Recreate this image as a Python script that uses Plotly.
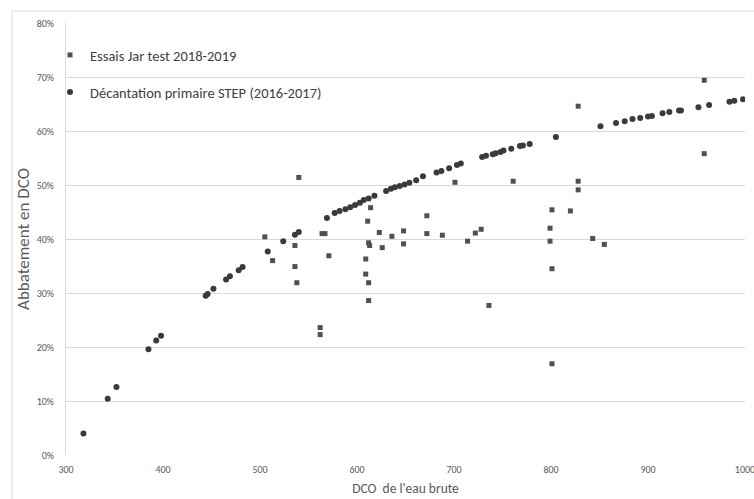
import plotly.graph_objects as go

# Décantation primaire STEP (2016-2017) — circles
step_x = [318, 343, 352, 385, 393, 398, 444, 446, 452, 465, 469, 478, 482, 508, 524, 536, 540,
          569, 577, 582, 588, 593, 598, 603, 607, 612, 618, 630, 635, 639, 644, 649, 654, 661,
          668, 682, 687, 695, 703, 707, 729, 733, 740, 743, 748, 751, 759, 768, 771, 778, 805,
          851, 867, 876, 884, 892, 900, 904, 915, 922, 932, 934, 952, 963, 984, 989, 998]
step_y = [4.0, 10.4, 12.6, 19.6, 21.2, 22.1, 29.5, 29.8, 30.8, 32.5, 33.1, 34.2, 34.8, 37.7, 39.6, 40.8, 41.3,
          43.9, 44.8, 45.2, 45.5, 45.9, 46.3, 46.7, 47.2, 47.5, 48.0, 48.9, 49.3, 49.6, 49.8, 50.1, 50.4, 50.9,
          51.6, 52.3, 52.6, 53.1, 53.7, 54.0, 55.2, 55.4, 55.7, 55.9, 56.1, 56.4, 56.7, 57.2, 57.3, 57.6, 58.9,
          60.9, 61.5, 61.8, 62.2, 62.4, 62.7, 62.8, 63.3, 63.5, 63.8, 63.8, 64.4, 64.8, 65.4, 65.6, 65.9]

# Essais Jar test 2018-2019 — squares
jar_x = [505, 513, 536, 536, 538, 540, 562, 562, 564, 567, 571, 609, 609, 611, 612, 612, 612, 613, 614,
         623, 626, 636, 648, 648, 672, 672, 688, 701, 714, 722, 728, 736, 761, 799, 799, 801, 801, 801,
         820, 828, 828, 828, 843, 855, 958, 958]
jar_y = [40.4, 36.0, 38.8, 34.9, 31.9, 51.4, 23.6, 22.3, 41.0, 41.0, 36.9, 36.3, 33.5, 43.3, 39.3, 31.9, 28.6, 38.8, 45.8,
         41.2, 38.4, 40.5, 41.5, 39.1, 44.3, 41.0, 40.7, 50.5, 39.6, 41.1, 41.8, 27.7, 50.7, 42.0, 39.6, 45.4, 34.5, 16.9,
         45.2, 64.6, 50.7, 49.1, 40.1, 39.0, 69.4, 55.8]

name_jar = "Essais Jar test 2018-2019"
name_step = "Décantation primaire STEP (2016-2017)"
x_title = "DCO  de l'eau brute"
y_title = "Abbatement en DCO"

FONT = "Carlito, Calibri, Lato, sans-serif"
TXT = "#595959"
GRID = "#d9d9d9"

fig = go.Figure()
fig.add_trace(go.Scatter(
    x=jar_x, y=[v / 100 for v in jar_y], mode="markers", name=name_jar, showlegend=True,
    marker=dict(symbol="square", size=5, color="#505050"), legend="legend"))
fig.add_trace(go.Scatter(
    x=step_x, y=[v / 100 for v in step_y], mode="markers", name=name_step, showlegend=True,
    marker=dict(symbol="circle", size=6, color="#3a3a3a"), legend="legend2"))

W, H = 754, 499
L, R, T, B = 66, 9, 23, 44
pw, ph = W - L - R, H - T - B

def px_x(p):
    return (p - L) / pw

def px_y(p):
    return (H - B - p) / ph

leg_common = dict(bgcolor="rgba(0,0,0,0)", font=dict(family=FONT, size=14.5, color="#404040"),
                  xanchor="left", yanchor="middle", itemsizing="trace", itemwidth=30,
                  visible=True)

fig.update_layout(
    width=W, height=H,
    margin=dict(l=L, r=R, t=T, b=B, autoexpand=False),
    paper_bgcolor="white", plot_bgcolor="white",
    showlegend=True,
    font=dict(family=FONT, color=TXT),
    legend=dict(x=px_x(50), y=px_y(55), **leg_common),
    legend2=dict(x=px_x(50), y=px_y(92), **leg_common),
    xaxis=dict(range=[300, 1000], dtick=100, tick0=300, showgrid=False, zeroline=False,
               showline=False, ticks="", tickfont=dict(size=10, color=TXT), ticklabelstandoff=7,
               ticklabeloverflow="allow", automargin=False,
               title=dict(text=x_title, font=dict(size=13.5, color=TXT), standoff=8)),
    yaxis=dict(range=[0, 0.8], dtick=0.1, tickformat=".0%", showgrid=True, gridcolor=GRID,
               gridwidth=1, zeroline=False, showline=True, linecolor=GRID, ticks="",
               tickfont=dict(size=10, color=TXT), ticklabelstandoff=9, automargin=False,
               title=dict(text=y_title, font=dict(size=17, color=TXT), standoff=2)),
    shapes=[dict(type="rect", xref="paper", yref="paper",
                 x0=px_x(12), x1=px_x(800), y0=px_y(11), y1=px_y(560),
                 line=dict(color="#d9d9d9", width=1), fillcolor="rgba(0,0,0,0)", layer="below")],
)

fig.write_html("out.html")
